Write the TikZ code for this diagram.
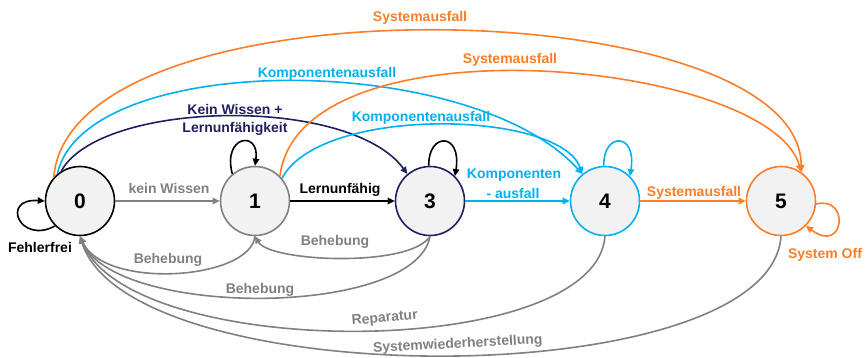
\documentclass[tikz,border=0pt]{standalone}
\usepackage{fontspec}
\setmainfont{Liberation Sans}
\usetikzlibrary{arrows.meta}
\definecolor{cgray}{RGB}{128,128,128}
\definecolor{corange}{RGB}{255,125,40}
\definecolor{cblue}{RGB}{0,176,240}
\definecolor{cnavy}{RGB}{32,32,96}
\definecolor{cfill}{RGB}{242,242,242}
\tikzset{
  state/.style={circle, draw, fill=cfill, line width=1.6pt, minimum size=69pt, inner sep=0pt,
    font=\fontsize{21}{24}\selectfont\bfseries},
  arr/.style={-{Triangle[length=7pt,width=6.5pt]}, line width=1.6pt},
  lab/.style={anchor=base, inner sep=0pt, font=\fontsize{14}{16}\selectfont\bfseries}
}
\begin{document}
\begin{tikzpicture}[x=1pt,y=-1pt]
\useasboundingbox (0,0) rectangle (867,357);
\node[state, draw=black] (n0) at (80,201) {0};
\node[state, draw=cgray] (n1) at (255,201) {1};
\node[state, draw=cnavy] (n3) at (430,201) {3};
\node[state, draw=cblue] (n4) at (605,201) {4};
\node[state, draw=corange] (n5) at (781,201) {5};

% straight edges
\draw[arr, cgray] (n0.east) -- (n1.west);
\draw[arr, black] (n1.east) -- (n3.west);
\draw[arr, cblue] (n3.east) -- (n4.west);
\draw[arr, corange] (n4.east) -- (n5.west);

% self loops
\draw[arr, black] (n0.225) .. controls (20,245) and (0,198) .. (n0.west);
\draw[arr, black] (n1.130) .. controls (222,135) and (260,130) .. (n1.north);
\draw[arr, black] (n3.92) .. controls (428,132) and (462,132) .. (n3.45);
\draw[arr, cblue] (n4.92) .. controls (603,132) and (637,132) .. (n4.45);
\draw[arr, corange] (n5.-5) .. controls (850,195) and (845,255) .. (n5.-45);

% top arcs
\draw[arr, corange] (n0.138) .. controls (70,-25) and (800,-10) .. (n5.55);
\draw[arr, cblue] (n0.130) .. controls (85,50) and (470,50) .. (n4.130);
\draw[arr, cnavy] (n0.122) .. controls (100,100) and (350,95) .. (n3.130);
\draw[arr, corange] (n1.45) .. controls (300,15) and (770,60) .. (n5.55);
\draw[arr, cblue] (n1.40) .. controls (320,105) and (560,110) .. (n4.130);

% bottom arcs
\draw[arr, cgray] (n1.south) .. controls (250,280) and (105,290) .. (n0.south);
\draw[arr, cgray] (n3.south) .. controls (410,268) and (270,262) .. (n1.south);
\draw[arr, cgray] (n3.south) .. controls (415,318) and (115,318) .. (n0.south);
\draw[arr, cgray] (n4.south) .. controls (595,362) and (130,362) .. (n0.south);
\draw[arr, cgray] (n5.south) .. controls (770,395) and (130,395) .. (n0.south);

% labels
\node[lab, corange] (lA) at (420,21) {Systemausfall};
\node[lab, corange] (lB) at (510,63) {Systemausfall};
\node[lab, cblue] (lC) at (327,77) {Komponentenausfall};
\node[lab, cblue] (lD) at (421,121) {Komponentenausfall};
\node[lab, cnavy] (lE1) at (235,114) {Kein Wissen +};
\node[lab, cnavy] (lE2) at (235,132) {Lernunfähigkeit};
\node[lab, cgray] (lF) at (169,193) {kein Wissen};
\node[lab, black] (lG) at (340,193) {Lernunfähig};
\node[lab, cblue] (lH1) at (514,178) {Komponenten};
\node[lab, cblue] (lH2) at (513,198) {- ausfall};
\node[lab, corange] (lI) at (694,196) {Systemausfall};
\node[lab, black] (lJ) at (40,252) {Fehlerfrei};
\node[lab, corange] (lK) at (825,258) {System Off};
\node[lab, cgray] (lL) at (168,263) {Behebung};
\node[lab, cgray] (lM) at (335,245) {Behebung};
\node[lab, cgray] (lN) at (260,293) {Behebung};
\node[lab, cgray, rotate=5] (lO) at (385,322) {Reparatur};
\node[lab, cgray, rotate=3] (lP) at (458,348) {Systemwiederherstellung};
\end{tikzpicture}
\end{document}
